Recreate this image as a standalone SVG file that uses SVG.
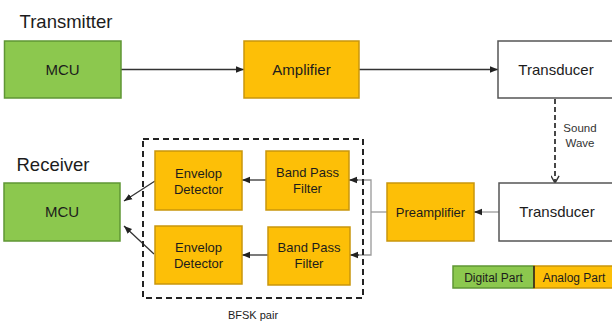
<svg xmlns="http://www.w3.org/2000/svg" width="612" height="322" viewBox="0 0 612 322">
<style>
text{font-family:"Liberation Sans",Arial,sans-serif;fill:#1c1c1c;text-anchor:middle}
.g{fill:#8cc84e;stroke:#5f9635;stroke-width:1.5}
.o{fill:#fdbf07;stroke:#c9960c;stroke-width:1.5}
.w{fill:#ffffff;stroke:#555;stroke-width:1.5}
.t15{font-size:15px}
.t13{font-size:13px}
.ln{stroke:#333;stroke-width:1.3;fill:none}
.lg{stroke:#999;stroke-width:1.3;fill:none}
</style>
<defs>
<marker id="ah" viewBox="0 0 10 10" refX="10" refY="5" markerWidth="8" markerHeight="8" markerUnits="userSpaceOnUse" orient="auto"><path d="M0,1 L10,5 L0,9 Z" fill="#222"/></marker>
<marker id="av" viewBox="0 0 10 10" refX="9" refY="5" markerWidth="9" markerHeight="9" markerUnits="userSpaceOnUse" orient="auto"><path d="M1,0.5 L9,5 L1,9.5" fill="none" stroke="#333" stroke-width="1.6"/></marker>
</defs>
<rect width="612" height="322" fill="#fff"/>
<text x="66" y="28" style="font-size:18.5px">Transmitter</text>
<text x="53" y="171" style="font-size:18.5px">Receiver</text>
<g id="connectors">
<line class="ln" x1="121" y1="69.5" x2="244" y2="69.5" marker-end="url(#ah)"/>
<line class="ln" x1="359" y1="69.5" x2="498" y2="69.5" marker-end="url(#ah)"/>
<line x1="555" y1="99" x2="555" y2="183" stroke="#333" stroke-width="1.8" stroke-dasharray="5,3" marker-end="url(#av)"/>
<line class="lg" x1="499" y1="212" x2="474" y2="212"/>
<line class="ln" x1="482" y1="212" x2="474" y2="212" marker-end="url(#ah)"/>
<polyline class="lg" points="387,212 371,212"/>
<polyline class="lg" points="356,180 371,180 371,255 356,255"/>
<line class="ln" x1="358" y1="180" x2="349" y2="180" marker-end="url(#ah)"/>
<line class="ln" x1="359" y1="255" x2="350" y2="255" marker-end="url(#ah)"/>
<line class="ln" x1="266" y1="180" x2="242" y2="180" marker-end="url(#ah)"/>
<line class="ln" x1="268" y1="255" x2="242" y2="255" marker-end="url(#ah)"/>
<line class="ln" x1="155" y1="181" x2="124" y2="201" marker-end="url(#ah)"/>
<line class="ln" x1="154" y1="254" x2="124" y2="226" marker-end="url(#ah)"/>
</g>
<g id="tx-mcu"><rect class="g" x="4.5" y="41" width="116.5" height="57"/><text class="t15" x="62.5" y="75">MCU</text></g>
<g id="amplifier"><rect class="o" x="244" y="41" width="115" height="57"/><text class="t15" x="301.5" y="75">Amplifier</text></g>
<g id="tx-transducer"><rect class="w" x="498" y="41" width="116" height="57"/><text class="t15" x="556" y="75">Transducer</text></g>
<g id="rx-transducer"><rect class="w" x="499" y="183" width="115" height="58"/><text class="t15" x="557" y="217">Transducer</text></g>
<g id="preamplifier"><rect class="o" x="387" y="183" width="87" height="58"/><text class="t13" x="430.5" y="216.5">Preamplifier</text></g>
<g id="bfsk-pair"><rect x="143" y="139" width="220" height="159" fill="none" stroke="#222" stroke-width="2" stroke-dasharray="6,4"/><text x="253" y="319" style="font-size:11px">BFSK pair</text></g>
<g id="env-1"><rect class="o" x="155" y="151" width="87" height="59"/><text class="t13" x="198.5" y="178">Envelop</text><text class="t13" x="198.5" y="194">Detector</text></g>
<g id="bpf-1"><rect class="o" x="266" y="151" width="83" height="59"/><text class="t13" x="307.5" y="177">Band Pass</text><text class="t13" x="307.5" y="193">Filter</text></g>
<g id="env-2"><rect class="o" x="155" y="226" width="87" height="58"/><text class="t13" x="198.5" y="252">Envelop</text><text class="t13" x="198.5" y="268">Detector</text></g>
<g id="bpf-2"><rect class="o" x="268" y="227" width="82" height="58"/><text class="t13" x="309" y="252">Band Pass</text><text class="t13" x="309" y="268">Filter</text></g>
<g id="rx-mcu"><rect class="g" x="4" y="183" width="116" height="58"/><text class="t15" x="62" y="217">MCU</text></g>
<text x="580" y="132" style="font-size:11.5px;fill:#333">Sound</text>
<text x="580" y="147" style="font-size:11.5px;fill:#333">Wave</text>
<g id="legend-digital"><rect class="g" x="453" y="266" width="81" height="22"/><text x="493.5" y="282" style="font-size:12px">Digital Part</text></g>
<g id="legend-analog"><rect class="o" x="534" y="266" width="80" height="22"/><text x="574" y="282" style="font-size:12px">Analog Part</text></g>
<line x1="534" y1="266" x2="534" y2="288" stroke="#222" stroke-width="1.5"/>
</svg>
